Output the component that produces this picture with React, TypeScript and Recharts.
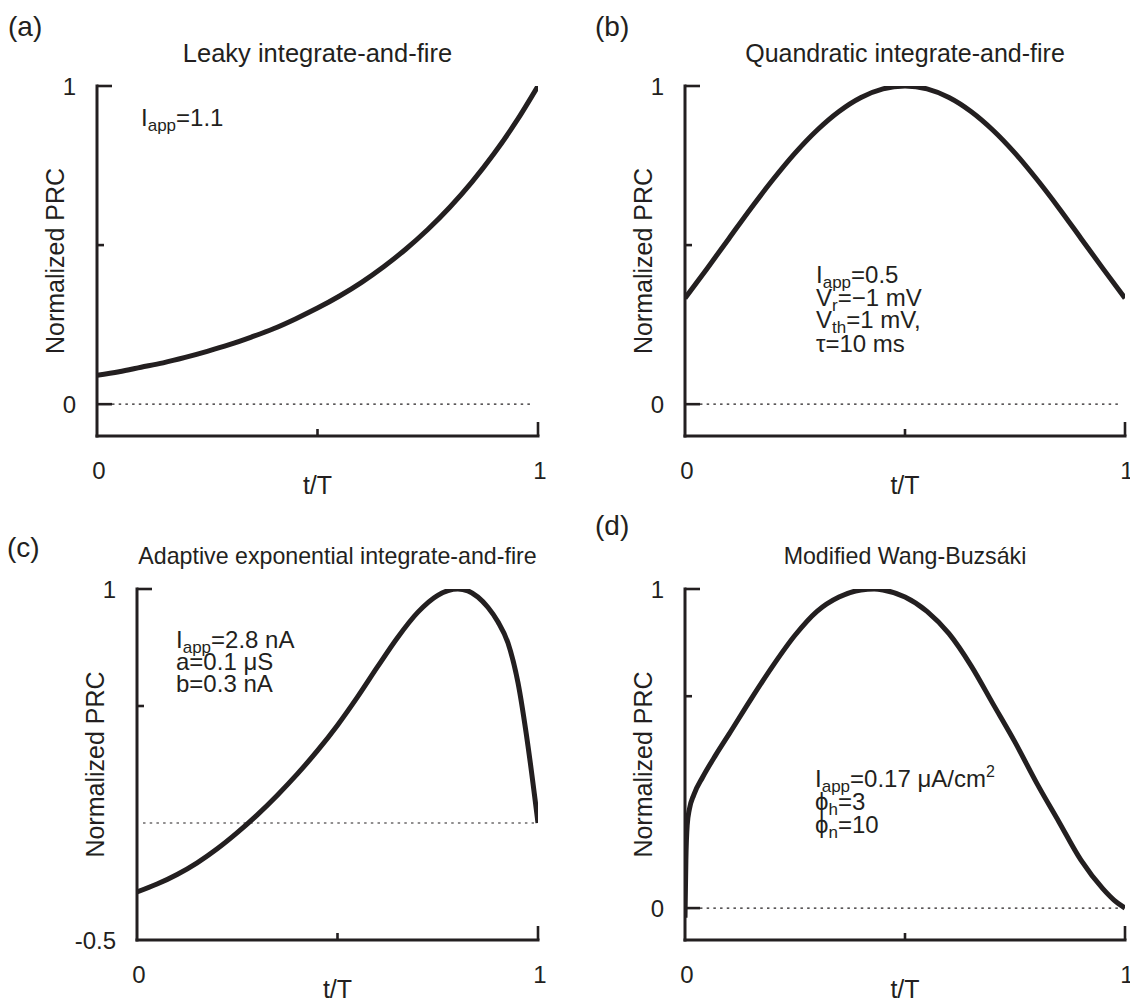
import React from 'react';
import { LineChart, Line, XAxis, YAxis, ReferenceLine } from 'recharts';

const INK = '#231f20';
const FONT = '"Liberation Sans", Arial, Helvetica, sans-serif';

// ---------- data ----------
// (a) Leaky integrate-and-fire
const phaseA = [0, 0.05, 0.1, 0.15, 0.2, 0.25, 0.3, 0.35, 0.4, 0.45, 0.5, 0.55, 0.6, 0.65, 0.7, 0.75, 0.8, 0.85, 0.9, 0.95, 1];
const prcA = [0.091, 0.102, 0.116, 0.13, 0.147, 0.166, 0.187, 0.211, 0.237, 0.268, 0.302, 0.34, 0.383, 0.432, 0.487, 0.549, 0.619, 0.698, 0.787, 0.887, 1.0];

// (b) Quadratic integrate-and-fire
const phaseB = [0, 0.05, 0.1, 0.15, 0.2, 0.25, 0.3, 0.35, 0.4, 0.45, 0.5, 0.55, 0.6, 0.65, 0.7, 0.75, 0.8, 0.85, 0.9, 0.95, 1];
const prcB = [0.333, 0.426, 0.521, 0.616, 0.706, 0.789, 0.861, 0.92, 0.964, 0.991, 1.0, 0.991, 0.964, 0.92, 0.861, 0.789, 0.706, 0.616, 0.521, 0.426, 0.333];

// (c) Adaptive exponential integrate-and-fire
const phaseC = [0, 0.05, 0.1, 0.15, 0.2, 0.25, 0.3, 0.35, 0.4, 0.45, 0.5, 0.55, 0.6, 0.65, 0.7, 0.75, 0.8, 0.825, 0.85, 0.875, 0.9, 0.925, 0.95, 0.975, 1];
const prcC = [-0.295, -0.261, -0.22, -0.17, -0.11, -0.041, 0.035, 0.119, 0.21, 0.309, 0.418, 0.539, 0.668, 0.793, 0.9, 0.973, 1.0, 0.992, 0.966, 0.922, 0.86, 0.77, 0.6, 0.33, 0.0];

// (d) Modified Wang-Buzsaki
const phaseD = [0, 0.002, 0.005, 0.01, 0.02, 0.04, 0.07, 0.1, 0.15, 0.2, 0.25, 0.3, 0.35, 0.4, 0.43, 0.45, 0.5, 0.55, 0.6, 0.65, 0.7, 0.75, 0.8, 0.85, 0.9, 0.95, 0.975, 1];
const prcD = [-0.03, 0.15, 0.26, 0.31, 0.355, 0.41, 0.48, 0.545, 0.655, 0.76, 0.855, 0.93, 0.975, 0.997, 1.0, 0.997, 0.975, 0.93, 0.86, 0.76, 0.64, 0.52, 0.39, 0.27, 0.15, 0.06, 0.025, 0.0];

// ticks
const xTicks = [0, 0.5, 1];
const xTickLabels = ['0', '', '1'];
const yTicksA = [0, 0.5, 1];
const yTickLabelsA = ['0', '', '1'];
const yTicksC = [-0.5, 0, 0.5, 1];
const yTickLabelsC = ['-0.5', '', '', '1'];
const yTicksD = [0, 0.664, 1];
const yTickLabelsD = ['0', '', '1'];

const titles = [
  'Leaky integrate-and-fire',
  'Quandratic integrate-and-fire',
  'Adaptive exponential integrate-and-fire',
  'Modified Wang-Buzsáki',
];
const letters = ['(a)', '(b)', '(c)', '(d)'];
const yAxisTitle = 'Normalized PRC';
const xAxisTitle = 't/T';

type Seg = [string, 'n' | 'sub' | 'sup'];
const annA: Seg[][] = [[['I', 'n'], ['app', 'sub'], ['=1.1', 'n']]];
const annB: Seg[][] = [
  [['I', 'n'], ['app', 'sub'], ['=0.5', 'n']],
  [['V', 'n'], ['r', 'sub'], ['=−1 mV', 'n']],
  [['V', 'n'], ['th', 'sub'], ['=1 mV,', 'n']],
  [['τ=10 ms', 'n']],
];
const annC: Seg[][] = [
  [['I', 'n'], ['app', 'sub'], ['=2.8 nA', 'n']],
  [['a=0.1 μS', 'n']],
  [['b=0.3 nA', 'n']],
];
const annD: Seg[][] = [
  [['I', 'n'], ['app', 'sub'], ['=0.17 μA/cm', 'n'], ['2', 'sup']],
  [['ϕ', 'n'], ['h', 'sub'], ['=3', 'n']],
  [['ϕ', 'n'], ['n', 'sub'], ['=10', 'n']],
];

const toRows = (xs: number[], ys: number[]) => xs.map((t, i) => ({ t, v: ys[i] }));

// ---------- layout / style ----------
const BOX_W = 565;
const BOX_H = 500;
const YAXIS_W = 60;
const XAXIS_H = 40;
const xTickLens = [0, 7, 14];
const ANN_SIZE = 24;
const SUB_SIZE = 17;

const panels = [
  {
    boxLeft: 0, boxTop: 0, plotL: 97, plotR: 538, plotT: 86, plotB: 436,
    data: toRows(phaseA, prcA), yDomain: [-0.1, 1], yTicks: yTicksA, yLabels: yTickLabelsA, yLens: [15, 7, 15],
    zeroSpan: [0.034, 0.99], title: titles[0], titleSize: 25.5, titleY: 62,
    letter: letters[0], letterX: 8, letterY: 36,
    ann: annA, annX: 141, annY: [126],
  },
  {
    boxLeft: 565, boxTop: 0, plotL: 685, plotR: 1125, plotT: 86, plotB: 436,
    data: toRows(phaseB, prcB), yDomain: [-0.1, 1], yTicks: yTicksA, yLabels: yTickLabelsA, yLens: [15, 7, 15],
    zeroSpan: [0.034, 0.99], title: titles[1], titleSize: 25, titleY: 62,
    letter: letters[1], letterX: 595, letterY: 36,
    ann: annB, annX: 816, annY: [283, 305.5, 328, 352],
  },
  {
    boxLeft: 0, boxTop: 500, plotL: 137, plotR: 538, plotT: 589, plotB: 940,
    data: toRows(phaseC, prcC), yDomain: [-0.5, 1], yTicks: yTicksC, yLabels: yTickLabelsC, yLens: [0, 0, 7, 15],
    zeroSpan: [0.015, 0.99], title: titles[2], titleSize: 23.2, titleY: 564,
    letter: letters[2], letterX: 7, letterY: 557,
    ann: annC, annX: 176, annY: [648, 670, 692],
  },
  {
    boxLeft: 565, boxTop: 500, plotL: 685, plotR: 1125, plotT: 589, plotB: 940,
    data: toRows(phaseD, prcD), yDomain: [-0.1, 1], yTicks: yTicksD, yLabels: yTickLabelsD, yLens: [15, 7, 15],
    zeroSpan: [0.034, 0.99], title: titles[3], titleSize: 23.2, titleY: 564,
    letter: letters[3], letterX: 595, letterY: 535,
    ann: annD, annX: 815, annY: [787, 810, 833],
  },
];

type P = typeof panels[number];

const makeXTick = (p: P) => (props: any) => {
  const { payload } = props;
  const x = payload.coordinate;
  const axisY = p.plotB - p.boxTop;
  const i = xTicks.findIndex((v) => Math.abs(v - payload.value) < 1e-9);
  const len = i >= 0 ? xTickLens[i] : 0;
  const label = i >= 0 ? xTickLabels[i] : '';
  return (
    <g>
      {len > 0 && <line x1={x} x2={x} y1={axisY} y2={axisY - len} stroke={INK} strokeWidth={2.6} />}
      {label && (
        <text x={x + 2} y={axisY + 42.5} textAnchor="middle" fontSize={24} fill={INK} fontFamily={FONT}>
          {label}
        </text>
      )}
    </g>
  );
};

const makeYTick = (p: P) => (props: any) => {
  const { payload } = props;
  const y = payload.coordinate;
  const axisX = p.plotL - p.boxLeft;
  const i = p.yTicks.findIndex((v) => Math.abs(v - payload.value) < 1e-9);
  const len = i >= 0 ? p.yLens[i] : 0;
  const label = i >= 0 ? p.yLabels[i] : '';
  return (
    <g>
      {len > 0 && <line x1={axisX} x2={axisX + len} y1={y} y2={y} stroke={INK} strokeWidth={2.6} />}
      {label && (
        <text x={axisX - 21} y={y + 8.5} textAnchor="end" fontSize={24} fill={INK} fontFamily={FONT}>
          {label}
        </text>
      )}
    </g>
  );
};

function Panel({ p }: { p: P }) {
  const margin = {
    top: p.plotT - p.boxTop,
    left: p.plotL - p.boxLeft - YAXIS_W,
    right: p.boxLeft + BOX_W - p.plotR,
    bottom: p.boxTop + BOX_H - p.plotB - XAXIS_H,
  };
  const axisLine = { stroke: INK, strokeWidth: 3, strokeLinecap: 'square' as const };
  return (
    <div style={{ position: 'absolute', left: p.boxLeft, top: p.boxTop, width: BOX_W, height: BOX_H }}>
      <LineChart width={BOX_W} height={BOX_H} data={p.data} margin={margin}>
        <XAxis
          type="number"
          dataKey="t"
          domain={[0, 1]}
          ticks={xTicks}
          interval={0}
          tickLine={false}
          tickSize={0}
          tickMargin={0}
          height={XAXIS_H}
          axisLine={axisLine}
          tick={makeXTick(p)}
          allowDataOverflow
        />
        <YAxis
          type="number"
          domain={p.yDomain as [number, number]}
          ticks={p.yTicks}
          interval={0}
          tickLine={false}
          tickSize={0}
          tickMargin={0}
          width={YAXIS_W}
          axisLine={axisLine}
          tick={makeYTick(p)}
          allowDataOverflow
        />
        <ReferenceLine
          segment={[{ x: p.zeroSpan[0], y: 0 }, { x: p.zeroSpan[1], y: 0 }]}
          stroke={INK}
          strokeWidth={1.2}
          strokeDasharray="2.5 4.2"
        />
        <Line
          dataKey="v"
          type="monotone"
          stroke={INK}
          strokeWidth={5}
          dot={false}
          activeDot={false}
          isAnimationActive={false}
        />
      </LineChart>
    </div>
  );
}

function Annotation({ p }: { p: P }) {
  return (
    <g>
      {p.ann.map((line, li) => {
        let shift = 0;
        return (
          <text key={li} x={p.annX} y={p.annY[li]} fontSize={ANN_SIZE} fill={INK} fontFamily={FONT}>
            {line.map(([txt, kind], si) => {
              const target = kind === 'sub' ? 5 : kind === 'sup' ? -10 : 0;
              const dy = target - shift;
              shift = target;
              const size = kind === 'sub' ? SUB_SIZE : kind === 'sup' ? 16 : ANN_SIZE;
              return (
                <tspan key={si} dy={dy} fontSize={size}>
                  {txt}
                </tspan>
              );
            })}
          </text>
        );
      })}
    </g>
  );
}

function Overlay() {
  return (
    <svg
      width={1130}
      height={1000}
      style={{ position: 'absolute', left: 0, top: 0, pointerEvents: 'none' }}
      fontFamily={FONT}
    >
      {panels.map((p, i) => {
        const cx = (p.plotL + p.plotR) / 2;
        const cy = (p.plotT + p.plotB) / 2;
        const lx = p.plotL - 33;
        return (
          <g key={i}>
            <text x={p.letterX} y={p.letterY} fontSize={28} fill={INK}>
              {p.letter}
            </text>
            <text x={cx} y={p.titleY} fontSize={p.titleSize} fill={INK} textAnchor="middle">
              {p.title}
            </text>
            <text
              x={lx}
              y={cy}
              fontSize={25}
              fill={INK}
              textAnchor="middle"
              transform={`rotate(-90 ${lx} ${cy})`}
            >
              {yAxisTitle}
            </text>
            <text x={cx} y={p.plotB + 58} fontSize={25} fill={INK} textAnchor="middle">
              {xAxisTitle}
            </text>
            <Annotation p={p} />
          </g>
        );
      })}
    </svg>
  );
}

export default function App() {
  return (
    <div
      style={{
        position: 'absolute',
        left: 0,
        top: 0,
        width: 1130,
        height: 1000,
        background: '#fff',
        overflow: 'hidden',
        fontFamily: FONT,
      }}
    >
      {panels.map((p, i) => (
        <Panel key={i} p={p} />
      ))}
      <Overlay />
    </div>
  );
}
